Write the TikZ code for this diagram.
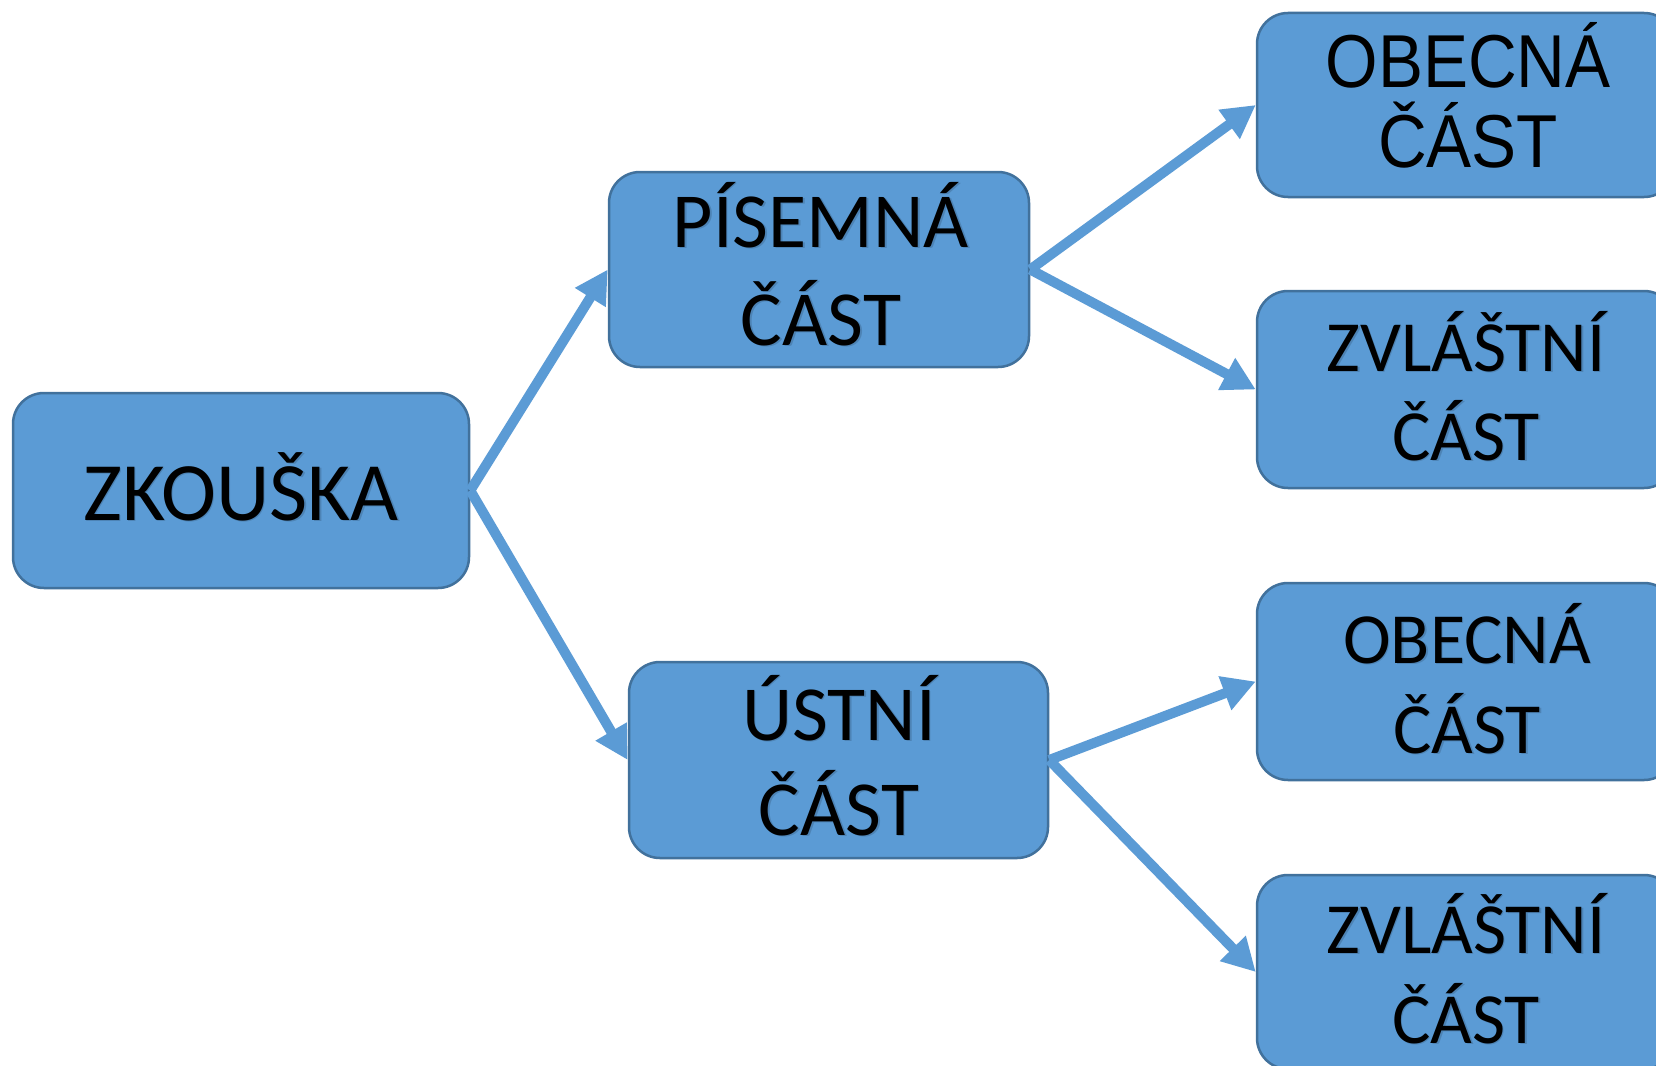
\documentclass[tikz,border=0pt]{standalone}
\usepackage{fontspec}
\setmainfont{Carlito}
\newfontfamily\altfont[FakeStretch=0.9]{Liberation Sans}
\usetikzlibrary{arrows.meta}
\definecolor{boxfill}{HTML}{5B9BD5}
\definecolor{boxline}{HTML}{41719C}
\definecolor{arrowc}{HTML}{5B9BD5}
\newcommand\fz[1]{\fontsize{#1}{#1}\selectfont}
\newcommand\shline[5]{% name, x, y, size, text
  \node[lbl, text=black, opacity=0.15] at (#2+1.5,#3+1.5) {\fz{#4}#5};
  \node[lbl] (#1) at (#2,#3) {\fz{#4}#5};}
\begin{document}
\begin{tikzpicture}[x=1pt,y=-1pt,
  box/.style={rectangle, draw=boxline, fill=boxfill, line width=2.5pt, rounded corners=31pt, inner sep=0pt},
  conn/.style={draw=arrowc, line width=10pt, -{Triangle[length=33pt,width=34pt]}},
  lbl/.style={anchor=base, inner sep=0pt, text=black},
]
\useasboundingbox (0,0) rectangle (1656,1065);
\fill[white] (0,0) rectangle (1656,1065);

% boxes
\node[box, minimum width=456pt, minimum height=195pt] (zk)  at (241,490.5) {};
\node[box, minimum width=420pt, minimum height=195pt] (pis) at (819,269.5) {};
\node[box, minimum width=419pt, minimum height=196pt] (ust) at (838.5,760) {};
\node[box, minimum width=418pt, minimum height=184pt] (ob1) at (1466,105) {};
\node[box, minimum width=418pt, minimum height=197pt] (zv1) at (1466,389.5) {};
\node[box, minimum width=418pt, minimum height=197pt] (ob2) at (1466,681.5) {};
\node[box, minimum width=418pt, minimum height=194pt] (zv2) at (1466,972) {};

% connectors
\draw[conn] (zk.east) -- (pis.west);
\draw[conn] (zk.east) -- (ust.west);
\draw[conn] (pis.east) -- (ob1.west);
\draw[conn] (pis.east) -- (zv1.west);
\draw[conn] (ust.east) -- (ob2.west);
\draw[conn] (ust.east) -- (zv2.west);

% labels
\shline{tzk}{241}{520}{83}{ZKOUŠKA}
\shline{tpis1}{821}{247}{78}{PÍSEMNÁ}
\shline{tpis2}{821}{345}{78}{ČÁST}
\shline{tust1}{839}{740}{78}{ÚSTNÍ}
\shline{tust2}{839}{835}{78}{ČÁST}
\node[lbl] (tob11) at (1468,87) {\altfont\fz{75}OBECNÁ};
\node[lbl] (tob12) at (1468,167) {\altfont\fz{75}ČÁST};
\shline{tzv11}{1466}{371}{72}{ZVLÁŠTNÍ}
\shline{tzv12}{1466}{460}{72}{ČÁST}
\shline{tob21}{1467}{663}{72}{OBECNÁ}
\shline{tob22}{1467}{753}{72}{ČÁST}
\shline{tzv21}{1466}{953}{72}{ZVLÁŠTNÍ}
\shline{tzv22}{1466}{1043}{72}{ČÁST}
\end{tikzpicture}
\end{document}
